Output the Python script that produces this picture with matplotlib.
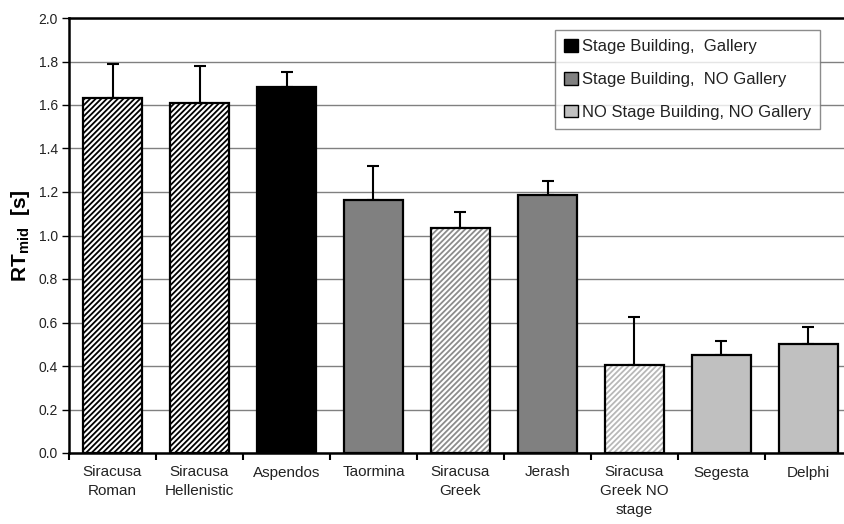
import matplotlib
matplotlib.use("Agg")
import matplotlib.pyplot as plt
from matplotlib.patches import Patch
import numpy as np

plt.rcParams['font.family'] = ['Liberation Sans', 'DejaVu Sans']
plt.rcParams['hatch.linewidth'] = 1.3

theatres = ["Siracusa\nRoman", "Siracusa\nHellenistic", "Aspendos", "Taormina",
            "Siracusa\nGreek", "Jerash", "Siracusa\nGreek NO\nstage", "Segesta", "Delphi"]
rt_mid = [1.63, 1.61, 1.685, 1.165, 1.035, 1.185, 0.405, 0.45, 0.50]
rt_err = [0.16, 0.17, 0.065, 0.155, 0.075, 0.065, 0.22, 0.065, 0.08]

# fill colour, hatch colour (None = solid)
face_colors = ["white", "white", "black", "#808080", "white", "#808080", "white", "#c0c0c0", "#c0c0c0"]
hatch_colors = ["black", "black", None, None, "#8c8c8c", None, "#b8b8b8", None, None]

legend_labels = ["Stage Building,  Gallery", "Stage Building,  NO Gallery",
                 "NO Stage Building, NO Gallery"]
legend_colors = ["black", "#808080", "#c0c0c0"]

fig = plt.figure(figsize=(8.45, 5.24), dpi=100)
ax = fig.add_axes([69 / 845, 71 / 524, 783 / 845, 435 / 524])

x = np.arange(len(theatres))
width = 0.67

for xi, v, fc, hc in zip(x, rt_mid, face_colors, hatch_colors):
    if hc is not None:
        ax.bar(xi, v, width, color="white", edgecolor=hc, hatch="//////", linewidth=0, zorder=3)
        ax.bar(xi, v, width, facecolor="none", edgecolor="black", linewidth=1.6, zorder=4)
    else:
        ax.bar(xi, v, width, color=fc, edgecolor="black", linewidth=1.6, zorder=3)

ax.errorbar(x, rt_mid, yerr=[np.zeros(len(x)), rt_err], fmt="none", ecolor="black",
            elinewidth=1.5, capsize=4, capthick=1.5, zorder=2)

ax.set_xlim(-0.5, len(theatres) - 0.5)
ax.set_ylim(0, 2.0)
ax.set_yticks(np.arange(0, 2.01, 0.2))
ax.set_yticklabels([f"{t:.1f}" for t in np.arange(0, 2.01, 0.2)], fontsize=10, color="#222222")
ax.yaxis.grid(True, color="#808080", linewidth=1.0, zorder=0)
ax.set_axisbelow(True)

ax.set_xticks(x)
ax.set_xticklabels(theatres, fontsize=11, color="#222222", linespacing=1.45)
ax.set_xticks(np.arange(-0.5, len(theatres)), minor=True)
ax.tick_params(axis="x", which="major", length=0, pad=9)
ax.tick_params(axis="x", which="minor", length=5, width=1.5, direction="out")
ax.tick_params(axis="y", length=5, width=1.0, direction="out", pad=3)

for side in ["left", "bottom", "top"]:
    ax.spines[side].set_linewidth(1.8)
    ax.spines[side].set_color("black")
ax.spines["right"].set_visible(False)

ax.set_ylabel(r"RT$_{\mathregular{mid}}$  [s]", fontsize=15, fontweight="bold", labelpad=5)

handles = [Patch(facecolor=c, edgecolor="black", linewidth=1.0) for c in legend_colors]
leg = ax.legend(handles, legend_labels, loc="upper left",
                bbox_to_anchor=(555 / 845, 1 - 30 / 524), bbox_transform=fig.transFigure,
                fontsize=12, frameon=True, fancybox=False, handlelength=0.8, handleheight=0.8,
                handletextpad=0.25, labelspacing=1.05, borderpad=0.55, borderaxespad=0)
leg.get_frame().set_edgecolor("#707070")
leg.get_frame().set_linewidth(1.0)
for t in leg.get_texts():
    t.set_color("#222222")

fig.savefig("out.png", dpi=100)
